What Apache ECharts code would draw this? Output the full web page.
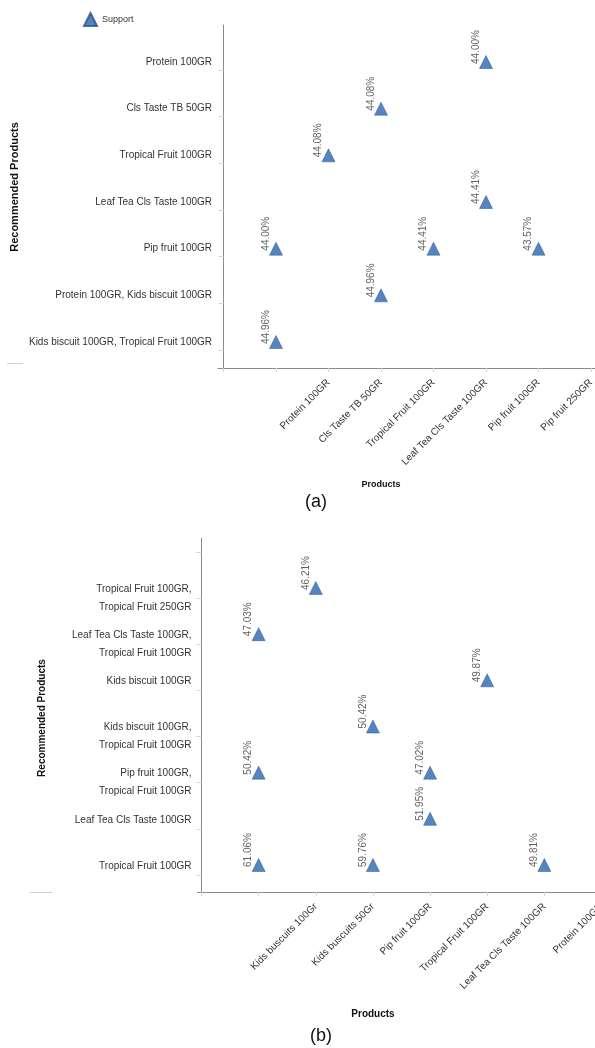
<!DOCTYPE html>
<html>
<head>
<meta charset="utf-8">
<script src="https://cdn.jsdelivr.net/npm/echarts@6/dist/echarts.min.js"></script>
<style>
html,body{margin:0;padding:0;background:#fff;}
#chart{width:595px;height:1048px;}
</style>
</head>
<body>
<div id="chart"></div>
<script>
// ---------- Chart (a) ----------
const productsA = ['Protein 100GR', 'Cls Taste TB 50GR', 'Tropical Fruit 100GR', 'Leaf Tea Cls Taste 100GR', 'Pip fruit 100GR', 'Pip fruit 250GR'];
// recommended products, listed bottom -> top
const recommendedA = ['Kids biscuit 100GR, Tropical Fruit 100GR', 'Protein 100GR, Kids biscuit 100GR', 'Pip fruit 100GR', 'Leaf Tea Cls Taste 100GR', 'Tropical Fruit 100GR', 'Cls Taste TB 50GR', 'Protein 100GR'];
const pointsA = [
  ['Pip fruit 100GR', 'Protein 100GR', 44.00],
  ['Tropical Fruit 100GR', 'Cls Taste TB 50GR', 44.08],
  ['Cls Taste TB 50GR', 'Tropical Fruit 100GR', 44.08],
  ['Pip fruit 100GR', 'Leaf Tea Cls Taste 100GR', 44.41],
  ['Protein 100GR', 'Pip fruit 100GR', 44.00],
  ['Leaf Tea Cls Taste 100GR', 'Pip fruit 100GR', 44.41],
  ['Pip fruit 250GR', 'Pip fruit 100GR', 43.57],
  ['Tropical Fruit 100GR', 'Protein 100GR, Kids biscuit 100GR', 44.96],
  ['Protein 100GR', 'Kids biscuit 100GR, Tropical Fruit 100GR', 44.96]
];

// ---------- Chart (b) ----------
const productsB = ['Kids buscuits 100Gr', 'Kids buscuits 50Gr', 'Pip fruit 100GR', 'Tropical Fruit 100GR', 'Leaf Tea Cls Taste 100GR', 'Protein 100GR'];
const recommendedB = ['Tropical Fruit 100GR', 'Leaf Tea Cls Taste 100GR', 'Pip fruit 100GR, Tropical Fruit 100GR', 'Kids biscuit 100GR, Tropical Fruit 100GR', 'Kids biscuit 100GR', 'Leaf Tea Cls Taste 100GR, Tropical Fruit 100GR', 'Tropical Fruit 100GR, Tropical Fruit 250GR'];
const pointsB = [
  ['Kids buscuits 50Gr', 'Tropical Fruit 100GR, Tropical Fruit 250GR', 46.21],
  ['Kids buscuits 100Gr', 'Leaf Tea Cls Taste 100GR, Tropical Fruit 100GR', 47.03],
  ['Leaf Tea Cls Taste 100GR', 'Kids biscuit 100GR', 49.87],
  ['Pip fruit 100GR', 'Kids biscuit 100GR, Tropical Fruit 100GR', 50.42],
  ['Kids buscuits 100Gr', 'Pip fruit 100GR, Tropical Fruit 100GR', 50.42],
  ['Tropical Fruit 100GR', 'Pip fruit 100GR, Tropical Fruit 100GR', 47.02],
  ['Tropical Fruit 100GR', 'Leaf Tea Cls Taste 100GR', 51.95],
  ['Kids buscuits 100Gr', 'Tropical Fruit 100GR', 61.06],
  ['Pip fruit 100GR', 'Tropical Fruit 100GR', 59.76],
  ['Protein 100GR', 'Tropical Fruit 100GR', 49.81]
];

const FONT = 'Liberation Sans, Arial, sans-serif';
const MARKER = '#2b65ae';
const AXIS = '#8a8a8a';
const TICK = '#d4d4d4';

const toXY = (pts, xs, ys) => pts.map(p => [xs.indexOf(p[0]) + 1, ys.indexOf(p[1]) + 1, p[2]]);
const range = n => Array.from({length: n}, (_, i) => i + 1);

const TICK_SHIFT_A = 0.17;
const TICK_SHIFT_B = 0.217;

const dataLabel = {
  show: true,
  position: 'inside',
  rotate: 90,
  align: 'left',
  verticalAlign: 'middle',
  offset: [-2, -10],
  fontSize: 10,
  color: '#383838',
  fontFamily: FONT,
  formatter: p => p.data[2].toFixed(2) + '%'
};

const chart = echarts.init(document.getElementById('chart'), null, {renderer: 'canvas'});
chart.setOption({
  animation: false,
  backgroundColor: '#fff',
  textStyle: {fontFamily: FONT},
  legend: {
    data: ['Support'],
    left: 83, top: 12, padding: 0,
    icon: 'triangle',
    itemWidth: 13, itemHeight: 13,
    selectedMode: false,
    textStyle: {fontSize: 9, color: '#333', fontFamily: FONT, padding: [0, 0, 4, 0]}
  },
  grid: [
    {left: 218, top: 25, right: 0, height: 343, outerBoundsMode: 'none', containLabel: false},
    {left: 197.5, top: 538, width: 404, height: 354, outerBoundsMode: 'none', containLabel: false}
  ],
  xAxis: [
    {
      type: 'value', gridIndex: 0, min: -0.105, max: 7.076,
      splitLine: {show: false},
      axisLine: {show: true, lineStyle: {color: AXIS}},
      axisTick: {show: true, length: 4, lineStyle: {color: TICK}, customValues: [0, 1, 2, 3, 4, 5, 6, 7]},
      axisLabel: {
        customValues: range(6).map(v => v + 1),
        rotate: 45, fontSize: 10, color: '#333', fontFamily: FONT, margin: 13,
        formatter: v => productsA[Math.round(v) - 2] || ''
      }
    },
    {
      type: 'value', gridIndex: 1, min: -0.07, max: 7,
      splitLine: {show: false},
      axisLine: {show: true, lineStyle: {color: AXIS}},
      axisTick: {show: true, length: 4, lineStyle: {color: TICK}, customValues: [0, 1, 2, 3, 4, 5, 6]},
      axisLabel: {
        customValues: range(6).map(v => v + 1),
        rotate: 45, fontSize: 10, color: '#333', fontFamily: FONT, margin: 13,
        formatter: v => productsB[Math.round(v) - 2] || ''
      }
    }
  ],
  yAxis: [
    {
      type: 'value', gridIndex: 0, min: 0.443, max: 7.793,
      splitLine: {show: false},
      axisLine: {show: true, lineStyle: {color: AXIS}},
      axisTick: {show: true, length: 5, lineStyle: {color: TICK}, customValues: range(7).map(v => v - TICK_SHIFT_A)},
      axisLabel: {
        customValues: range(7),
        fontSize: 10, color: '#333', fontFamily: FONT, margin: 6,
        formatter: v => recommendedA[Math.round(v) - 1] || ''
      }
    },
    {
      type: 'value', gridIndex: 1, min: 0.415, max: 8.083,
      splitLine: {show: false},
      axisLine: {show: true, lineStyle: {color: AXIS}},
      axisTick: {show: true, length: 5, lineStyle: {color: TICK}, customValues: range(8).map(v => v - TICK_SHIFT_B)},
      axisLabel: {
        customValues: range(7).map(v => v - TICK_SHIFT_B),
        fontSize: 10, color: '#333', fontFamily: FONT, margin: 6, lineHeight: 18,
        formatter: v => {
          const t = recommendedB[Math.round(v + TICK_SHIFT_B) - 1];
          if (!t) return '';
          return t.indexOf(', ') >= 0 ? t.replace(', ', ',\n') : t + '\n';
        }
      }
    }
  ],
  series: [
    {
      name: 'Support', type: 'scatter', xAxisIndex: 0, yAxisIndex: 0,
      symbol: 'triangle', symbolSize: [13, 13],
      itemStyle: {color: MARKER, borderColor: '#22548f', borderWidth: 0.6},
      label: dataLabel,
      data: toXY(pointsA, productsA, recommendedA)
    },
    {
      name: 'Support', type: 'scatter', xAxisIndex: 1, yAxisIndex: 1,
      symbol: 'triangle', symbolSize: [13, 13],
      itemStyle: {color: MARKER, borderColor: '#22548f', borderWidth: 0.6},
      label: dataLabel,
      data: toXY(pointsB, productsB, recommendedB)
    }
  ],
  graphic: [
    {type: 'text', x: 15, y: 187, rotation: Math.PI / 2, style: {text: 'Recommended Products', font: 'bold 11px ' + FONT, fill: '#111', align: 'center', verticalAlign: 'middle'}},
    {type: 'text', x: 381, y: 485, style: {text: 'Products', font: 'bold 9px ' + FONT, fill: '#111', align: 'center', verticalAlign: 'middle'}},
    {type: 'text', x: 316, y: 502, style: {text: '(a)', font: '18px ' + FONT, fill: '#111', align: 'center', verticalAlign: 'middle'}},
    {type: 'text', x: 42, y: 718, rotation: Math.PI / 2, style: {text: 'Recommended Products', font: 'bold 10px ' + FONT, fill: '#111', align: 'center', verticalAlign: 'middle'}},
    {type: 'text', x: 373, y: 1014, style: {text: 'Products', font: 'bold 10px ' + FONT, fill: '#111', align: 'center', verticalAlign: 'middle'}},
    {type: 'text', x: 321, y: 1036, style: {text: '(b)', font: '18px ' + FONT, fill: '#111', align: 'center', verticalAlign: 'middle'}},
    {type: 'line', shape: {x1: 7, y1: 363.5, x2: 23, y2: 363.5}, style: {stroke: '#cfcfcf', lineWidth: 1}},
    {type: 'line', shape: {x1: 30, y1: 892.5, x2: 52, y2: 892.5}, style: {stroke: '#cfcfcf', lineWidth: 1}}
  ]
});
</script>
</body>
</html>
